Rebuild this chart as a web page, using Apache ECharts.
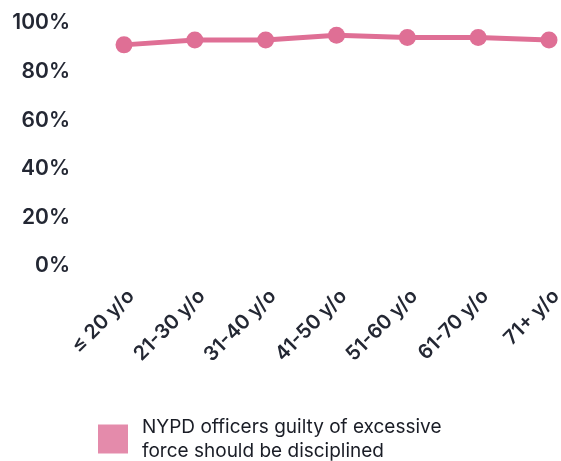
<!DOCTYPE html>
<html><head><meta charset="utf-8">
<script src="https://cdn.jsdelivr.net/npm/echarts@6/dist/echarts.min.js"></script>
<style>html,body{margin:0;padding:0;background:#fff}#c{width:561px;height:461px}</style>
</head><body><div id="c"></div>
<script>
var categories = ['≤ 20 y/o','21-30 y/o','31-40 y/o','41-50 y/o','51-60 y/o','61-70 y/o','71+ y/o'];
var values = [91, 93, 93, 95, 94, 94, 93];
var seriesName = 'NYPD officers guilty of excessive force should be disciplined';
var yTicks = [0, 20, 40, 60, 80, 100];

var chart = echarts.init(document.getElementById('c'));
var font = 'Inter, "Noto Sans", sans-serif';
chart.setOption({
  animation: false,
  grid: {left: 124, right: 12, top: 23, bottom: 195, outerBoundsMode: 'none', containLabel: false},
  xAxis: {
    type: 'category', data: categories, boundaryGap: false,
    axisLine: {show: false}, axisTick: {show: false},
    axisLabel: {rotate: 45, margin: 34, color: '#232733', fontSize: 20, fontWeight: 600, fontFamily: font, interval: 0, padding: [0, -10, 0, 0]}
  },
  yAxis: {
    type: 'value', min: yTicks[0], max: yTicks[yTicks.length-1], interval: 20,
    splitLine: {show: false}, axisLine: {show: false}, axisTick: {show: false},
    axisLabel: {formatter: '{value}%', margin: 54, color: '#232733', fontSize: 21, fontWeight: 600, fontFamily: font}
  },
  legend: {
    left: 93, top: 410, icon: 'rect', itemWidth: 30, itemHeight: 29, itemGap: 10,
    data: [{name: seriesName, itemStyle: {color: '#e48bab'}}],
    formatter: function(){ return 'NYPD officers guilty of excessive\nforce should be disciplined'; },
    textStyle: {fontSize: 19, color: '#1a1d26', fontFamily: font, lineHeight: 24, padding: [0,0,0,9]}
  },
  series: [{
    name: seriesName, type: 'line', data: values,
    symbol: 'circle', symbolSize: 17,
    lineStyle: {width: 5, color: '#df6f95'},
    itemStyle: {color: '#df6f95'}
  }]
});
</script></body></html>
